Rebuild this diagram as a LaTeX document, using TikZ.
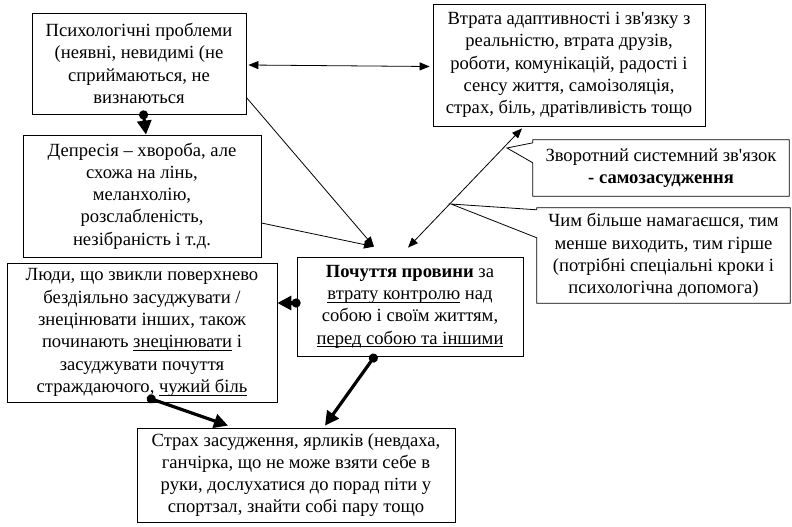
\documentclass[tikz,border=0pt]{standalone}
\usepackage{fontspec}
\setmainfont{Liberation Serif}
\usetikzlibrary{arrows.meta,calc}
\newcommand\undl[1]{\setbox0\hbox{#1}\rlap{\vrule width\wd0 height -2.2pt depth 3.1pt}\box0\relax}
\newcommand\boxfont{\fontsize{18.6}{22.3}\selectfont}
\tikzset{
  box/.style={draw, line width=0.8pt, inner sep=0pt, align=center, font=\boxfont},
  calltext/.style={inner sep=0pt, align=center, font=\boxfont},
  callline/.style={line width=0.8pt, line join=miter},
  thinarr/.style={line width=0.8pt, -{Triangle[length=10pt,width=8pt]}},
  thinboth/.style={line width=0.8pt, {Triangle[length=10pt,width=8pt]}-{Triangle[length=10pt,width=8pt]}},
  thickarr/.style={line width=3.2pt, {Circle[length=9pt]}-{Triangle[length=14pt,width=14pt]}}
}
\begin{document}
\begin{tikzpicture}[x=1pt,y=-1pt]
\useasboundingbox (0,0) rectangle (792,527);

\node[box, minimum width=214, minimum height=101] (b1) at (139,63.5)
  {Психологічні проблеми\\(неявні, невидимі (не\\сприймаються, не\\визнаються};
\node[box, minimum width=272, minimum height=122] (b2) at (569,65)
  {Втрата адаптивності і зв\textquotesingle язку з\\реальністю, втрата друзів,\\роботи, комунікацій, радості і\\сенсу життя, самоізоляція,\\страх, біль, дратівливість тощо};
\node[box, minimum width=238, minimum height=122] (b3) at (142,196)
  {Депресія – хвороба, але\\схожа на лінь,\\меланхолію,\\розслабленість,\\незібраність і т.д.};
\node[box, minimum width=270, minimum height=139] (b4) at (142,332.5)
  {Люди, що звикли поверхнево\\бездіяльно засуджувати /\\знецінювати інших, також\\починають \undl{знецінювати} і\\засуджувати почуття\\страждаючого, \undl{чужий біль}};
\node[box, minimum width=226, minimum height=99] (b5) at (410,306.5)
  {\textbf{Почуття провини} за\\\undl{втрату контролю} над\\собою і своїм життям,\\\undl{перед собою та іншими}};
\node[box, minimum width=318, minimum height=94] (b6) at (296,475)
  {Страх засудження, ярликів (невдаха,\\ганчірка, що не може взяти себе в\\руки, дослухатися до порад піти у\\спортзал, знайти собі пару тощо};

\node[calltext, minimum width=256, minimum height=56] (c1) at (661,168)
  {Зворотний системний зв\textquotesingle язок\\\textbf{- самозасудження}};
\node[calltext, minimum width=253, minimum height=95] (c2) at (663.5,255.5)
  {Чим більше намагаєшся, тим\\менше виходить, тим гірше\\(потрібні спеціальні кроки і\\психологічна допомога)};

\coordinate (t1) at (507,148);
\coordinate (t2) at (451,204);

% callout outlines
\draw[callline] ([shift={(0,3)}]c1.north west) -- (c1.north west) -- (c1.north east) -- (c1.south east)
  -- (c1.south west) -- ([shift={(0,23)}]c1.north west) -- (t1) -- cycle;
\draw[callline] ([shift={(0,2)}]c2.north west) -- (c2.north west) -- (c2.north east) -- (c2.south east)
  -- (c2.south west) -- ([shift={(0,30)}]c2.north west) -- (t2) -- cycle;

% thin connectors
\draw[thinboth] ([shift={(2,1.5)}]b1.east) -- ([shift={(-3,1.5)}]b2.west);
\draw[thinarr] ([shift={(0,34)}]b1.east) -- ([shift={(-36,-10)}]b5.north);
\draw[thinarr] ([shift={(0,27)}]b3.east) -- ([shift={(-36,-10)}]b5.north);
\draw[thinboth] ([shift={(-2,-9)}]b5.north) -- ([shift={(-47,2)}]b2.south);

% thick connectors
\draw[thickarr] ([shift={(4,-4)}]b1.south) -- ([shift={(4,0)}]b3.north);
\draw[thickarr] ([shift={(4,-3.5)}]b5.west) -- ([shift={(0,-3.5)}]b5.west -| b4.east);
\draw[thickarr] ([shift={(5,-5)}]b4.south) -- ([shift={(-68,-2)}]b6.north);
\draw[thickarr] ([shift={(-34,-2)}]b5.south) -- ([shift={(29,-2)}]b6.north);
\end{tikzpicture}
\end{document}
